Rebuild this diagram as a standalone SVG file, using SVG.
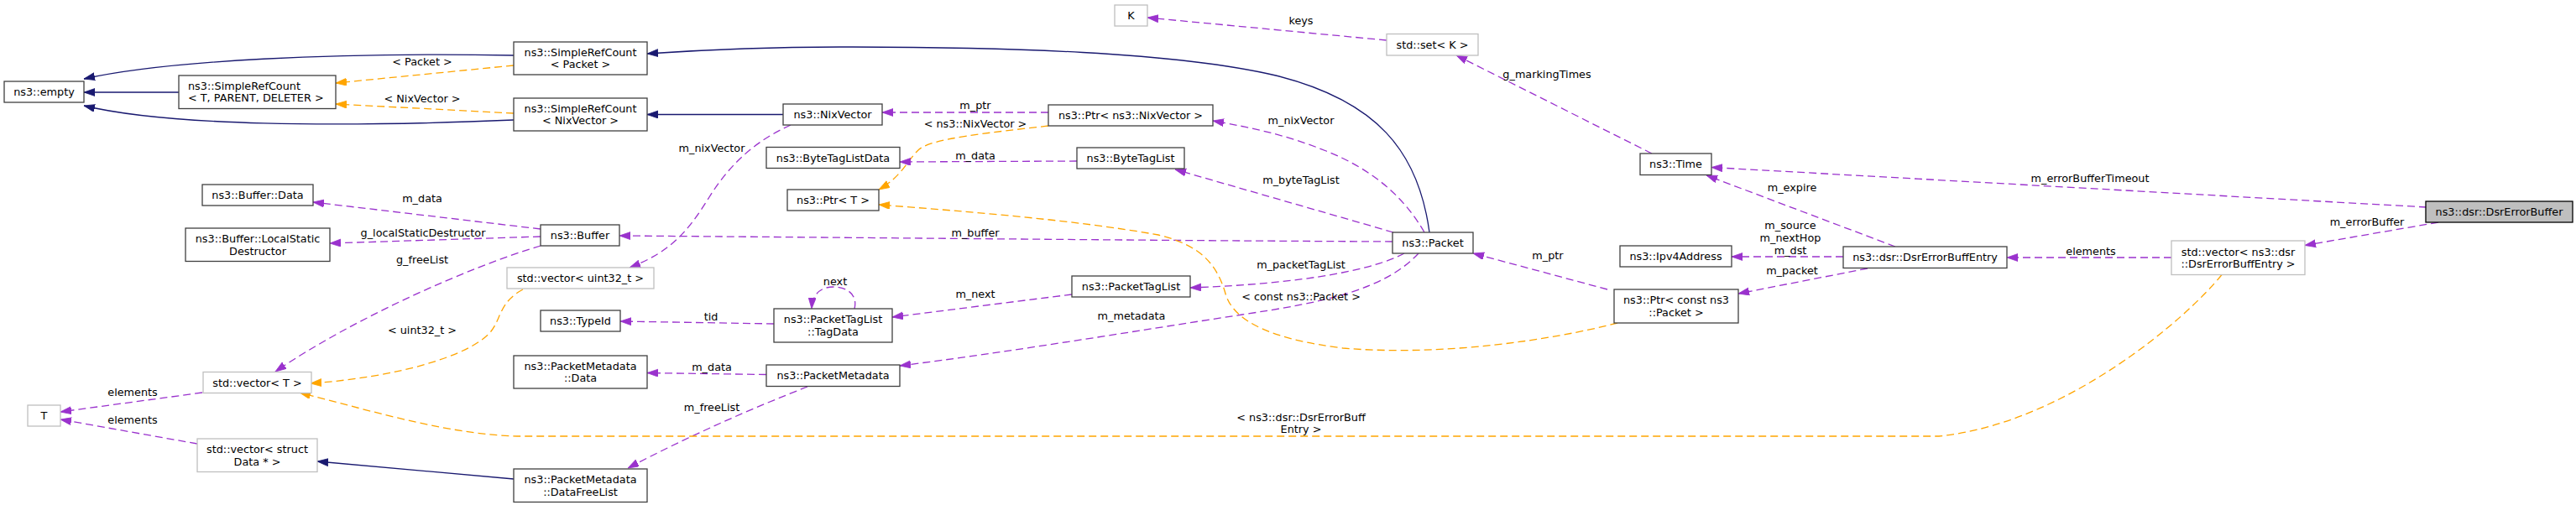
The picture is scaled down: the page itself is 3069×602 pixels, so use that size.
<svg xmlns="http://www.w3.org/2000/svg" width="3069" height="602" viewBox="0 0 3069 602">
<style>
rect.nd{fill:#ffffff;stroke:#404040;stroke-width:1.3}
rect.gr{fill:#ffffff;stroke:#bfbfbf;stroke-width:1.3}
rect.main{fill:#bfbfbf;stroke:#000000;stroke-width:1.3}
text{font-family:"DejaVu Sans","Liberation Sans",sans-serif;font-size:12.8px;fill:#000000;text-anchor:middle}
text.l{text-anchor:start}
.e{fill:none;stroke-width:1.3}
.p{stroke:#9a32cd;stroke-dasharray:9,5;marker-end:url(#ap)}
.o{stroke:#ffa500;stroke-dasharray:9,5;marker-end:url(#ao)}
.b{stroke:#191970;marker-end:url(#ab)}
</style>
<defs>
<marker id="ap" markerWidth="15" markerHeight="11" refX="13" refY="4.5" orient="auto" markerUnits="userSpaceOnUse"><path d="M0,0 L13,4.5 L0,9 z" fill="#9a32cd" stroke="#9a32cd" stroke-width="0.8"/></marker>
<marker id="ao" markerWidth="15" markerHeight="11" refX="13" refY="4.5" orient="auto" markerUnits="userSpaceOnUse"><path d="M0,0 L13,4.5 L0,9 z" fill="#ffa500" stroke="#ffa500" stroke-width="0.8"/></marker>
<marker id="ab" markerWidth="15" markerHeight="11" refX="13" refY="4.5" orient="auto" markerUnits="userSpaceOnUse"><path d="M0,0 L13,4.5 L0,9 z" fill="#191970" stroke="#191970" stroke-width="0.8"/></marker>
</defs>
<rect x="0" y="0" width="3069" height="602" fill="#ffffff"/>

<g id="connectors">
<path class="e b" d="M612,66 C400,62 200,72 100,94"/>
<path class="e b" d="M213,110 L100,110"/>
<path class="e b" d="M612,143 C400,152 200,150 100,126"/>
<g><path class="e o" d="M612,78 L400,99"/><text x="503" y="77.5">&lt; Packet &gt;</text></g>
<g><path class="e o" d="M612,135 L400,124"/><text x="503" y="121.5">&lt; NixVector &gt;</text></g>
<path class="e b" d="M1703,277 C1690,180 1640,120 1520,90 C1400,62 1200,56 1000,56 C900,56 830,60 771,64"/>
<path class="e b" d="M933,136.5 L771,136.5"/>
<g><path class="e p" d="M1249,134 L1051,134"/><text x="1162" y="129.5">m_ptr</text></g>
<g><path class="e o" d="M1249,150 C1180,158 1110,165 1095,178 C1080,192 1075,210 1047,226"/><text x="1162" y="151.5">&lt; ns3::NixVector &gt;</text></g>
<g><path class="e p" d="M1283,192 L1072,193"/><text x="1162" y="189.5">m_data</text></g>
<g><path class="e p" d="M1697,277 C1670,230 1630,200 1580,180 C1530,160 1490,152 1445,144"/><text x="1550" y="148">m_nixVector</text></g>
<g><path class="e p" d="M1660,277 L1400,202"/><text x="1550" y="219">m_byteTagList</text></g>
<g><path class="e p" d="M1659,288 C1400,287 1000,283 738,281"/><text x="1162" y="281.5">m_buffer</text></g>
<g><path class="e p" d="M1673,302 C1640,320 1560,338 1418,343"/><text x="1550" y="319.5">m_packetTagList</text></g>
<g><path class="e p" d="M1690,302 C1650,345 1580,360 1480,375 C1350,395 1200,420 1072,436"/><text x="1348" y="380.5">m_metadata</text></g>
<g><path class="e p" d="M1277,351 L1063,378"/><text x="1162" y="354.5">m_next</text></g>
<g><path class="e p" d="M1018,368 C1022,352 1010,342 993,342 C978,342 968,350 967,368"/><text x="995" y="339.5">next</text></g>
<g><path class="e p" d="M922,386 L739,383"/><text x="847" y="381.5">tid</text></g>
<g><path class="e p" d="M913,446.5 L771,444.5"/><text x="848" y="441.5">m_data</text></g>
<g><path class="e p" d="M962,461 C900,485 820,520 748,558"/><text x="848" y="489.5">m_freeList</text></g>
<path class="e b" d="M612,571 L378,550"/>
<g><path class="e p" d="M235,529 L72,500"/><text x="158" y="504.5">elements</text></g>
<g><path class="e p" d="M241,468 L72,491"/><text x="158" y="471.5">elements</text></g>
<g><path class="e p" d="M644,273 L373,241"/><text x="503" y="240.5">m_data</text></g>
<g><path class="e p" d="M644,282 L393,290"/><text x="504" y="281.5">g_localStaticDestructor</text></g>
<g><path class="e p" d="M644,293 C560,318 420,380 328,443"/><text x="503" y="313.5">g_freeList</text></g>
<g><path class="e p" d="M942,149 C900,168 870,195 845,235 C820,275 800,300 750,319"/><text x="848" y="180.5">m_nixVector</text></g>
<g><path class="e o" d="M623,345 C595,360 597,380 585,395 C560,425 470,450 370,457"/><text x="503" y="397.5">&lt; uint32_t &gt;</text></g>
<g><path class="e o" d="M2647,327.5 C2605,380 2460,505 2310,520 L620,520 C540,519 450,492 357,468"/><text x="1550" y="501.5">&lt; ns3::dsr::DsrErrorBuff</text><text x="1550" y="516">Entry &gt;</text></g>
<g><path class="e o" d="M1927,385 C1850,405 1720,425 1600,415 C1520,405 1470,385 1460,350 C1450,315 1430,292 1380,280 C1280,262 1150,252 1047,244"/><text x="1550" y="357.5">&lt; const ns3::Packet &gt;</text></g>
<g><path class="e p" d="M1915,345 L1755,302"/><text x="1844" y="309">m_ptr</text></g>
<g><path class="e p" d="M2225,320 L2071,350"/><text x="2135" y="326.5">m_packet</text></g>
<g><path class="e p" d="M2196,306 L2063,306"/><text x="2133" y="273">m_source</text><text x="2133" y="288">m_nextHop</text><text x="2133" y="303">m_dst</text></g>
<g><path class="e p" d="M2258,294 L2033,209"/><text x="2135" y="228">m_expire</text></g>
<g><path class="e p" d="M2587,307 L2391,307"/><text x="2491" y="303.5">elements</text></g>
<g><path class="e p" d="M2905,265 L2746,292.5"/><text x="2820" y="268.5">m_errorBuffer</text></g>
<g><path class="e p" d="M2891,247 L2039,199.5"/><text x="2490" y="216.5">m_errorBufferTimeout</text></g>
<g><path class="e p" d="M1968,183 L1735,66"/><text x="1843" y="92.5">g_markingTimes</text></g>
<g><path class="e p" d="M1652,48 L1367,21"/><text x="1550" y="28.5">keys</text></g>
</g>

<g id="n_empty"><rect class="nd" x="5" y="97" width="95" height="25"/><text x="52.5" y="114">ns3::empty</text></g>
<g id="n_src_tpd"><rect class="nd" x="213" y="90" width="187" height="39.5"/><text class="l" x="224" y="106.5">ns3::SimpleRefCount</text><text class="l" x="224" y="121">&lt; T, PARENT, DELETER &gt;</text></g>
<g id="n_src_packet"><rect class="nd" x="612" y="50" width="159" height="39"/><text x="691.5" y="66.7">ns3::SimpleRefCount</text><text x="691.5" y="81.3">&lt; Packet &gt;</text></g>
<g id="n_src_nix"><rect class="nd" x="612" y="117" width="159" height="39"/><text x="691.5" y="133.7">ns3::SimpleRefCount</text><text x="691.5" y="148.3">&lt; NixVector &gt;</text></g>
<g id="n_nixvector"><rect class="nd" x="933" y="124" width="118" height="25"/><text x="992" y="141">ns3::NixVector</text></g>
<g id="n_bytetaglistdata"><rect class="nd" x="913" y="175.5" width="159" height="25"/><text x="992.5" y="192.5">ns3::ByteTagListData</text></g>
<g id="n_ptr_t"><rect class="nd" x="938" y="226" width="109" height="25"/><text x="992.5" y="243">ns3::Ptr&lt; T &gt;</text></g>
<g id="n_buffer"><rect class="nd" x="644" y="268" width="94" height="25"/><text x="691" y="285">ns3::Buffer</text></g>
<g id="n_vec_uint32"><rect class="gr" x="604" y="319" width="175" height="25"/><text x="691.5" y="336">std::vector&lt; uint32_t &gt;</text></g>
<g id="n_typeid"><rect class="nd" x="644" y="370" width="95" height="25"/><text x="691.5" y="387">ns3::TypeId</text></g>
<g id="n_buffer_data"><rect class="nd" x="241" y="220" width="132" height="25"/><text x="307" y="237">ns3::Buffer::Data</text></g>
<g id="n_localstatic"><rect class="nd" x="221" y="272" width="172" height="39.5"/><text x="307" y="289">ns3::Buffer::LocalStatic</text><text x="307" y="303.5">Destructor</text></g>
<g id="n_vec_t"><rect class="gr" x="242" y="443.5" width="129" height="25"/><text x="306.5" y="460.5">std::vector&lt; T &gt;</text></g>
<g id="n_t"><rect class="gr" x="33" y="483" width="39" height="25"/><text x="52.5" y="500">T</text></g>
<g id="n_vec_data"><rect class="gr" x="235" y="523" width="143" height="39.5"/><text x="306.5" y="540">std::vector&lt; struct</text><text x="306.5" y="554.5">Data * &gt;</text></g>
<g id="n_tagdata"><rect class="nd" x="922" y="368" width="141" height="40"/><text x="992.5" y="385.2">ns3::PacketTagList</text><text x="992.5" y="399.8">::TagData</text></g>
<g id="n_pm_data"><rect class="nd" x="612" y="424" width="159" height="39"/><text x="691.5" y="440.7">ns3::PacketMetadata</text><text x="691.5" y="455.3">::Data</text></g>
<g id="n_packetmetadata"><rect class="nd" x="913" y="435" width="159" height="25.5"/><text x="992.5" y="452.2">ns3::PacketMetadata</text></g>
<g id="n_datafreelist"><rect class="nd" x="612" y="559" width="159" height="39.5"/><text x="691.5" y="576">ns3::PacketMetadata</text><text x="691.5" y="590.5">::DataFreeList</text></g>
<g id="n_k"><rect class="gr" x="1328" y="6" width="39" height="25"/><text x="1347.5" y="23">K</text></g>
<g id="n_ptr_nix"><rect class="nd" x="1249" y="125" width="196" height="25"/><text x="1347" y="142">ns3::Ptr&lt; ns3::NixVector &gt;</text></g>
<g id="n_bytetaglist"><rect class="nd" x="1283" y="176" width="128" height="25"/><text x="1347" y="193">ns3::ByteTagList</text></g>
<g id="n_packettaglist"><rect class="nd" x="1277" y="329" width="141" height="25"/><text x="1347.5" y="346">ns3::PacketTagList</text></g>
<g id="n_set_k"><rect class="gr" x="1652" y="40.5" width="109" height="25.5"/><text x="1706.5" y="57.7">std::set&lt; K &gt;</text></g>
<g id="n_time"><rect class="nd" x="1954" y="183" width="85" height="25.5"/><text x="1996.5" y="200.2">ns3::Time</text></g>
<g id="n_packet"><rect class="nd" x="1659" y="277" width="96" height="25"/><text x="1707" y="294">ns3::Packet</text></g>
<g id="n_ipv4"><rect class="nd" x="1930" y="293" width="133" height="25"/><text x="1996.5" y="310">ns3::Ipv4Address</text></g>
<g id="n_ptr_cpacket"><rect class="nd" x="1923" y="345" width="148" height="40"/><text x="1997" y="362.2">ns3::Ptr&lt; const ns3</text><text x="1997" y="376.8">::Packet &gt;</text></g>
<g id="n_entry"><rect class="nd" x="2196" y="294" width="195" height="25.5"/><text x="2293.5" y="311.2">ns3::dsr::DsrErrorBuffEntry</text></g>
<g id="n_vec_entry"><rect class="gr" x="2587" y="287" width="159" height="40.5"/><text x="2666.5" y="304.5">std::vector&lt; ns3::dsr</text><text x="2666.5" y="319">::DsrErrorBuffEntry &gt;</text></g>
<g id="n_errorbuffer"><rect class="main" x="2890" y="240" width="175" height="25"/><text x="2977.5" y="257">ns3::dsr::DsrErrorBuffer</text></g>
</svg>
